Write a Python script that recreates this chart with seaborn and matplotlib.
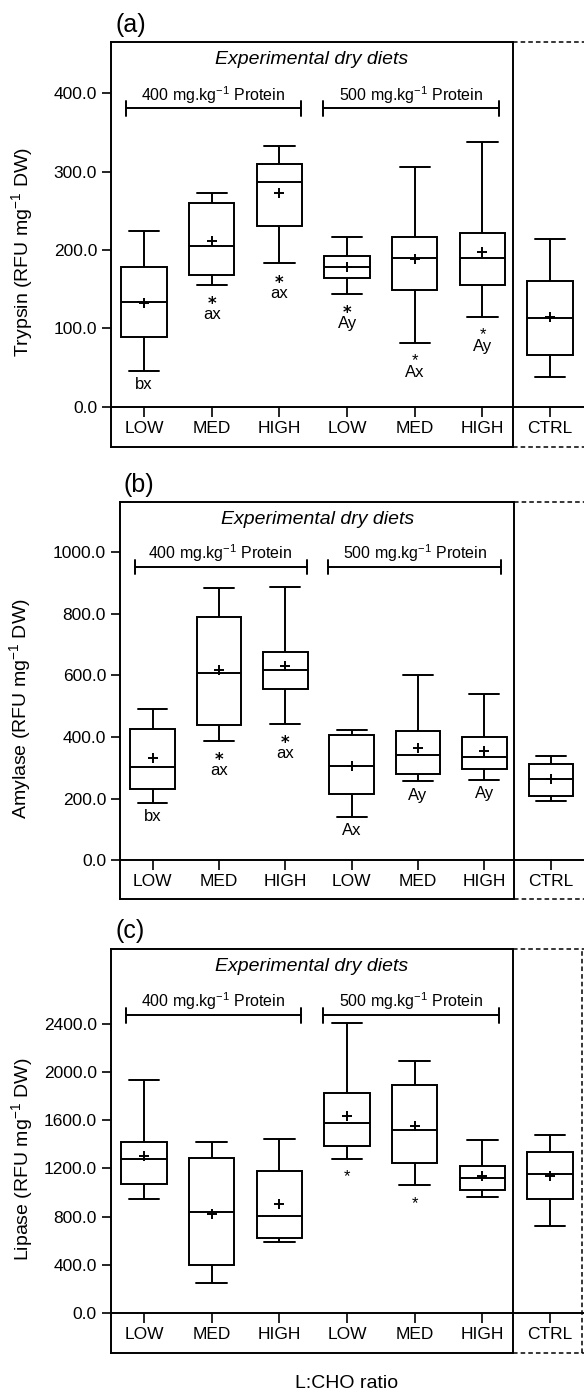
import matplotlib
matplotlib.use('Agg')
import matplotlib.pyplot as plt
import numpy as np
import pandas as pd
import seaborn as sns

# groups (unique keys) and the tick labels shown under them
keys = ['400 LOW', '400 MED', '400 HIGH', '500 LOW', '500 MED', '500 HIGH', 'CTRL']
tick_labels = ['LOW', 'MED', 'HIGH', 'LOW', 'MED', 'HIGH', 'CTRL']

# (a) trypsin: five-number summary + mean
tryp_min = [46, 156, 183, 144, 82, 115, 38]
tryp_q1 = [89, 168, 231, 164, 149, 155, 66]
tryp_med = [134, 205, 286, 178, 190, 190, 113]
tryp_q3 = [178, 260, 310, 192, 217, 222, 161]
tryp_max = [224, 273, 333, 217, 306, 338, 214]
tryp_mean = [133, 211, 273, 178, 189, 197, 115]
tryp_letters = ['bx', 'ax', 'ax', 'Ay', 'Ax', 'Ay', '']
tryp_stars = ['', '*', '*', '*', '*', '*', '']
tryp_star_big = [False, True, True, True, False, False, False]

# (b) amylase
amy_min = [186, 387, 443, 140, 256, 260, 192]
amy_q1 = [232, 438, 556, 214, 281, 297, 208]
amy_med = [303, 608, 616, 305, 342, 335, 264]
amy_q3 = [427, 789, 676, 406, 418, 400, 311]
amy_max = [489, 884, 887, 422, 600, 538, 337]
amy_mean = [330, 618, 630, 305, 363, 354, 262]
amy_letters = ['bx', 'ax', 'ax', 'Ax', 'Ay', 'Ay', '']
amy_stars = ['', '*', '*', '', '', '', '']
amy_star_big = [False, True, True, False, False, False, False]

# (c) lipase
lip_min = [948, 249, 592, 1280, 1059, 959, 719]
lip_q1 = [1073, 398, 625, 1385, 1244, 1017, 948]
lip_med = [1277, 835, 802, 1573, 1521, 1120, 1156]
lip_q3 = [1421, 1286, 1175, 1830, 1894, 1222, 1335]
lip_max = [1935, 1421, 1446, 2405, 2093, 1438, 1474]
lip_mean = [1299, 824, 907, 1637, 1554, 1134, 1134]
lip_letters = ['', '', '', '', '', '', '']
lip_stars = ['', '', '', '*', '*', '', '']
lip_star_big = [False] * 7

sns.set_style('ticks')
plt.rcParams['font.family'] = ['Liberation Sans', 'DejaVu Sans']
plt.rcParams['mathtext.fontset'] = 'custom'
plt.rcParams['mathtext.rm'] = 'Liberation Sans'
plt.rcParams['mathtext.it'] = 'Liberation Sans:italic'
plt.rcParams['mathtext.bf'] = 'DejaVu Sans:bold'
for k in ['text.color', 'axes.labelcolor', 'xtick.color', 'ytick.color',
          'axes.edgecolor']:
    plt.rcParams[k] = 'black'

W, H = 584, 1391
fig = plt.figure(figsize=(W / 100, H / 100), dpi=100)

LW = 1.4
SEP = 5.45
XL = (-0.49, 6.5)

panels = [
    dict(rect=(111, 42, 447), ylim=(-51, 465), yticks=range(0, 401, 100),
         stats=(tryp_min, tryp_q1, tryp_med, tryp_q3, tryp_max), mean=tryp_mean,
         letters=tryp_letters, stars=tryp_stars, big=tryp_star_big,
         tag='(a)', tag_xy=(131, 25), ylab=r'Trypsin (RFU mg$^{-1}$ DW)', ylab_xy=(22, 252),
         right_edge=False),
    dict(rect=(120, 502, 899), ylim=(-126, 1162), yticks=range(0, 1001, 200),
         stats=(amy_min, amy_q1, amy_med, amy_q3, amy_max), mean=amy_mean,
         letters=amy_letters, stars=amy_stars, big=amy_star_big,
         tag='(b)', tag_xy=(139, 485), ylab=r'Amylase (RFU mg$^{-1}$ DW)', ylab_xy=(20, 709),
         right_edge=False),
    dict(rect=(110.7, 949, 1353), ylim=(-332, 3021), yticks=range(0, 2401, 400),
         stats=(lip_min, lip_q1, lip_med, lip_q3, lip_max), mean=lip_mean,
         letters=lip_letters, stars=lip_stars, big=lip_star_big,
         tag='(c)', tag_xy=(130, 931), ylab=r'Lipase (RFU mg$^{-1}$ DW)', ylab_xy=(22, 1159),
         right_edge=True),
]

for p in panels:
    left, top, bottom = p['rect']
    ax = fig.add_axes([left / W, 1 - bottom / H, 1 - left / W, (bottom - top) / H])

    mn, q1, md, q3, mx = p['stats']
    df = pd.DataFrame({
        'group': np.repeat(keys, 5),
        'value': np.ravel(np.column_stack([mn, q1, md, q3, mx])),
    })
    sns.boxplot(data=df, x='group', y='value', order=keys, whis=(0, 100),
                width=0.67, color='white', linecolor='black', linewidth=LW,
                capwidths=0.45, ax=ax)
    sns.pointplot(x=keys, y=p['mean'], order=keys, color='black', marker='+',
                  linestyle='none', markersize=7.5, markeredgewidth=1.4,
                  errorbar=None, ax=ax)

    ax.set_xlim(*XL)
    ax.set_ylim(*p['ylim'])
    ax.set_xlabel('')
    ax.set_ylabel('')
    ax.set_xticks(range(len(keys)), labels=tick_labels)
    ax.set_yticks(list(p['yticks']))
    ax.yaxis.set_major_formatter(matplotlib.ticker.FormatStrFormatter('%.1f'))
    ax.tick_params(axis='y', direction='out', length=6.5, width=1.2, pad=3.5,
                   labelsize=12.5, colors='black')
    ax.tick_params(axis='x', direction='out', length=7, width=1.2, pad=3,
                   labelsize=12.5, colors='black')

    for s in ['top', 'right']:
        ax.spines[s].set_visible(False)
    ax.spines['left'].set_linewidth(LW)
    ax.spines['bottom'].set_position(('data', 0))
    ax.spines['bottom'].set_linewidth(LW)

    # frame: solid around the experimental diets, dashed around the control
    tr = ax.get_xaxis_transform()
    for yy in (0, 1):
        ax.plot([XL[0], SEP], [yy, yy], color='black', lw=LW, transform=tr, clip_on=False)
        ax.plot([SEP, XL[1]], [yy, yy], color='black', lw=1.1, ls=(0, (3, 2)),
                transform=tr, clip_on=False)
    ax.plot([SEP, SEP], [0, 1], color='black', lw=LW, transform=tr, clip_on=False)
    if p['right_edge']:
        ax.plot([6.47, 6.47], [0, 1], color='black', lw=1.1, ls=(0, (3, 2)),
                transform=tr, clip_on=False)

    # header texts and protein brackets
    ax.text((XL[0] + SEP) / 2, 0.957, 'Experimental dry diets', transform=tr,
            ha='center', va='center', fontsize=14, style='italic')
    for (x0, x1), lab in [((-0.27, 2.32), r'400 mg.kg$^{-1}$ Protein'),
                          ((2.65, 5.25), r'500 mg.kg$^{-1}$ Protein')]:
        ax.plot([x0, x1], [0.836, 0.836], color='black', lw=LW, transform=tr)
        for xe in (x0, x1):
            ax.plot([xe, xe], [0.818, 0.854], color='black', lw=LW, transform=tr)
        ax.text((x0 + x1) / 2, 0.87, lab, transform=tr, ha='center', va='center',
                fontsize=11.5)

    # significance marks below the lower whisker (star and letters as one text)
    for i in range(len(keys)):
        star, lett = p['stars'][i], p['letters'][i]
        if star and lett:
            first = r'$\mathbf{*}$' if p['big'][i] else star
            ax.annotate(first + '\n' + lett, xy=(i, mn[i]), xytext=(0, -7.4),
                        textcoords='offset points', ha='center', va='top',
                        fontsize=12, linespacing=0.75)
        elif star:
            ax.annotate(star, xy=(i, mn[i]), xytext=(0, -13.1),
                        textcoords='offset points', ha='center', va='center',
                        fontsize=12)
        elif lett:
            ax.annotate(lett, xy=(i, mn[i]), xytext=(0, -10),
                        textcoords='offset points', ha='center', va='center',
                        fontsize=12)

    fig.text(p['tag_xy'][0] / W, 1 - p['tag_xy'][1] / H, p['tag'], ha='center',
             va='center', fontsize=18)
    fig.text(p['ylab_xy'][0] / W, 1 - p['ylab_xy'][1] / H, p['ylab'], ha='center',
             va='center', rotation=90, fontsize=14)

fig.text(347 / W, 1 - 1383 / H, 'L:CHO ratio', ha='center', va='center', fontsize=14)

fig.savefig('out.png', dpi=100)
